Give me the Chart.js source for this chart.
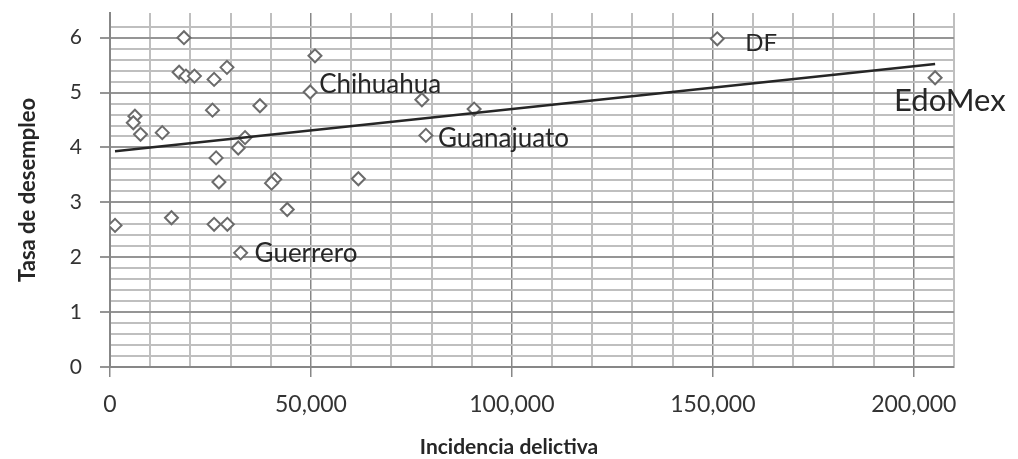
<!DOCTYPE html>
<html>
<head>
<meta charset="utf-8">
<script src="https://cdn.jsdelivr.net/npm/chart.js@4/dist/chart.umd.min.js"></script>
<style>
  html, body { margin: 0; padding: 0; background: #fff; }
  #wrap { width: 1018px; height: 459px; }
</style>
</head>
<body>
<div id="wrap"><canvas id="desempleoChart" width="1018" height="459"></canvas></div>
<script>
// Incidencia delictiva vs. tasa de desempleo por entidad federativa
const incidencia = [1250, 6200, 5800, 7600, 13000, 18400, 17200, 18900, 21000, 25900, 29100,
                    25500, 33600, 31900, 26400, 27100, 15300, 25900, 29200, 32500, 51000, 49800,
                    37300, 41000, 40200, 44100, 61800, 77600, 90600, 78600, 151100, 205300];
const desempleo = [2.58, 4.57, 4.45, 4.24, 4.27, 6.0, 5.37, 5.30, 5.30, 5.24, 5.46,
                   4.68, 4.18, 3.99, 3.81, 3.37, 2.72, 2.60, 2.60, 2.08, 5.67, 5.01,
                   4.76, 3.42, 3.35, 2.87, 3.43, 4.87, 4.70, 4.22, 5.98, 5.27];
const entidades = ['', '', '', '', '', '', '', '', '', '', '',
                   '', '', '', '', '', '', '', '', 'Guerrero', '', 'Chihuahua',
                   '', '', '', '', '', '', '', 'Guanajuato', 'DF', 'EdoMex'];

// linea de tendencia (extremos)
const tendenciaX = [1250, 205300];
const tendenciaY = [3.93, 5.52];

const xTicks = [0, 50000, 100000, 150000, 200000];
const yTicks = [0, 1, 2, 3, 4, 5, 6];

// where each state name sits relative to its marker
const etiquetaPos = {
  'DF':         { dx: 28,  dy: 4,  size: 24 },
  'EdoMex':     { dx: -41, dy: 23, size: 31 },
  'Chihuahua':  { dx: 9,   dy: -7, size: 26 },
  'Guanajuato': { dx: 12,  dy: 3,  size: 26 },
  'Guerrero':   { dx: 14,  dy: 1,  size: 26 }
};

const FONT = 'Lato, "Open Sans", sans-serif';
const isInt = v => Math.abs(v - Math.round(v)) < 1e-6;
const conComas = v => String(Math.round(v)).replace(/\B(?=(\d{3})+(?!\d))/g, ',');

const etiquetasPlugin = {
  id: 'etiquetas',
  afterDatasetsDraw(chart) {
    const ctx = chart.ctx;
    const meta = chart.getDatasetMeta(1);
    ctx.save();
    ctx.fillStyle = '#262626';
    ctx.textAlign = 'left';
    ctx.textBaseline = 'middle';
    meta.data.forEach((pt, i) => {
      const nombre = entidades[i];
      if (!nombre) return;
      const pos = etiquetaPos[nombre];
      ctx.font = pos.size + 'px ' + FONT;
      ctx.fillText(nombre, pt.x + pos.dx, pt.y + pos.dy);
    });
    // x axis title, centred on the canvas
    ctx.font = 'bold 21px ' + FONT;
    ctx.textAlign = 'center';
    ctx.fillText('Incidencia delictiva', chart.width / 2, 447);
    ctx.restore();
  }
};

function initChart() {
  const ctx = document.getElementById('desempleoChart').getContext('2d');
  new Chart(ctx, {
    type: 'scatter',
    data: {
      datasets: [{
        type: 'line',
        label: 'Tendencia',
        data: tendenciaX.map((x, i) => ({ x: x, y: tendenciaY[i] })),
        borderColor: '#262626',
        borderWidth: 2.5,
        pointRadius: 0,
        fill: false
      }, {
        label: 'Entidades',
        data: incidencia.map((x, i) => ({ x: x, y: desempleo[i] })),
        pointStyle: 'rectRot',
        pointRadius: 6.5,
        pointBorderWidth: 2,
        pointBorderColor: '#6b6b6b',
        pointBackgroundColor: '#ffffff'
      }]
    },
    options: {
      responsive: false,
      animation: false,
      layout: { padding: { left: 0, right: 64, top: 13, bottom: 1 } },
      plugins: { legend: { display: false }, tooltip: { enabled: false } },
      scales: {
        x: {
          type: 'linear',
          min: 0,
          max: 210000,
          afterFit: s => { s.height = 91; s.paddingLeft = 0; s.paddingRight = 0; },
          ticks: {
            stepSize: 10000,
            padding: 14,
            color: '#333',
            font: { family: FONT, size: 23 },
            maxRotation: 0,
            autoSkip: false,
            callback: v => (xTicks.includes(v) ? conComas(v) : '')
          },
          grid: {
            tickLength: 10,
            color: c => (c.tick && c.tick.value % 50000 === 0 ? '#878787' : '#bfbfbf'),
            lineWidth: c => (c.tick && c.tick.value % 50000 === 0 ? 1.5 : 2),
            tickColor: c => (c.tick && c.tick.value % 50000 === 0 ? '#878787' : 'rgba(0,0,0,0)')
          },
          border: { color: '#878787', width: 2 }
        },
        y: {
          type: 'linear',
          min: 0,
          max: 6.45,
          afterFit: s => { s.width = 110; s.paddingTop = 0; s.paddingBottom = 0; },
          afterBuildTicks: s => {
            s.ticks = s.ticks.filter(t => Math.abs(t.value * 5 - Math.round(t.value * 5)) < 1e-6);
          },
          ticks: {
            stepSize: 0.2,
            padding: 18,
            color: '#333',
            font: { family: FONT, size: 21 },
            autoSkip: false,
            callback: v => (isInt(v) && yTicks.includes(Math.round(v)) ? String(Math.round(v)) : '')
          },
          grid: {
            tickLength: 10,
            color: c => (c.tick && isInt(c.tick.value) ? '#959595' : '#bfbfbf'),
            lineWidth: 2,
            tickColor: c => (c.tick && isInt(c.tick.value) ? '#959595' : 'rgba(0,0,0,0)')
          },
          border: { color: '#878787', width: 2 },
          title: {
            display: true,
            text: 'Tasa de desempleo',
            color: '#262626',
            font: { family: FONT, size: 22, weight: 'bold' },
            padding: { top: 15, bottom: 0 }
          }
        }
      }
    },
    plugins: [etiquetasPlugin]
  });
}

document.addEventListener('DOMContentLoaded', initChart);
</script>
</body>
</html>
